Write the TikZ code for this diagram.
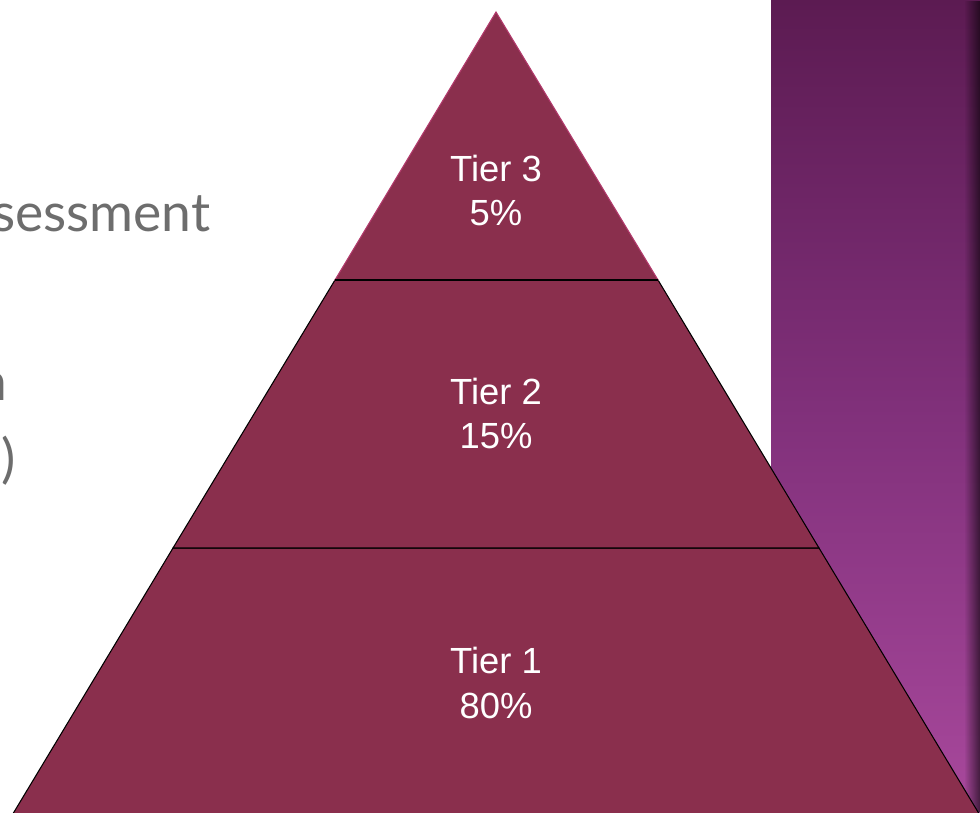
\documentclass[tikz,border=0pt]{standalone}
\usepackage{fontspec}
\setmainfont{Liberation Sans}
\newfontfamily\slidefont{Lato}
\usetikzlibrary{fadings}

\definecolor{tierfill}{HTML}{8A2F4D}
\definecolor{tieredge}{HTML}{B23A6C}
\definecolor{paneltop}{HTML}{5C1B52}
\definecolor{panelmid}{HTML}{80307A}
\definecolor{panelbot}{HTML}{A8489C}
\definecolor{slidegray}{HTML}{6D6D6D}

\tikzset{tier/.style={fill=tierfill,draw=black,line width=0.6pt,line join=miter},
tier top/.style={tier,draw=tieredge},
tier label/.style={text=white,align=center,inner sep=0cm,font=\fontsize{20.7}{25.6}\selectfont},
slide text/.style={text=slidegray,anchor=base east,inner sep=0cm,font=\slidefont\fontsize{30.4}{36}\selectfont}}

\begin{document}
\begin{tikzpicture}[semithick]
\clip (0,0) rectangle (19.600,16.240);
\fill[white] (0,0) rectangle (19.600,16.240);

%% Coordinates of the pyramid.
\coordinate (apex) at (9.920,16.000);
\coordinate (t3l) at (6.700,10.640);
\coordinate (t3r) at (13.160,10.640);
\coordinate (t2l) at (3.460,5.280);
\coordinate (t2r) at (16.380,5.280);
\coordinate (t1l) at (0.220,-0.100);
\coordinate (t1r) at (19.620,-0.100);

%% purple side panel
\shade[top color=paneltop,bottom color=panelbot,middle color=panelmid] (15.420,0) rectangle (19.600,16.240);
\fill[black,fill opacity=0.6,path fading=west] (19.280,0) rectangle (19.600,16.240);

%% text cut off on the left
\node [slide text] (line1) at (4.220,11.600) {sessment};
\node [slide text] (line2) at (0.160,8.240) {n};
\node [slide text] (line3) at (0.320,6.700) {)};

%% tiers, bottom to top
\draw [tier] (t1l) -- (t1r) -- (t2r) -- (t2l) -- cycle;
\draw [tier] (t2l) -- (t2r) -- (t3r) -- (t3l) -- cycle;
\draw [tier top] (t3l) -- (t3r) -- (apex) -- cycle;
\draw [line width=0.6pt] (t3l) -- (t3r);

%% tier labels
\node [tier label] (tier3) at (9.920,12.430) {Tier 3\\5\%};
\node [tier label] (tier2) at (9.920,7.970) {Tier 2\\15\%};
\node [tier label] (tier1) at (9.920,2.580) {Tier 1\\80\%};

\end{tikzpicture}
\end{document}
